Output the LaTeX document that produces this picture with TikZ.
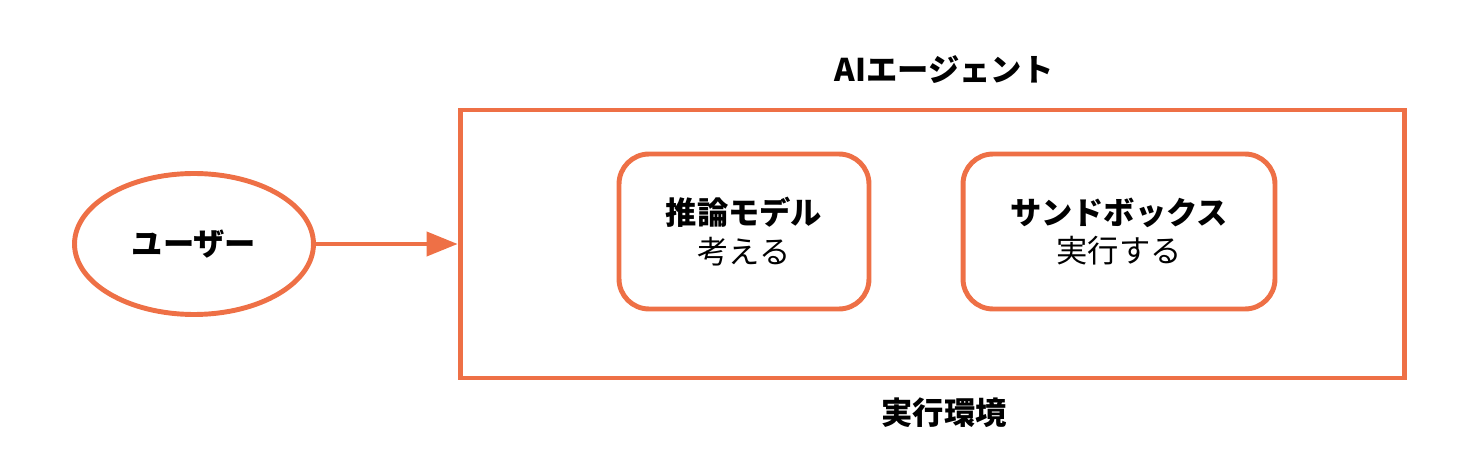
\documentclass[tikz,border=0pt]{standalone}
\usepackage{fontspec}
\setmainfont{Noto Sans CJK JP}
\usepackage{xcolor}
\definecolor{aOrange}{HTML}{EE7046}
\usepackage{tikz}
\usetikzlibrary{arrows.meta, positioning, shapes.geometric}

\begin{document}
\begin{tikzpicture}[
  x=0.02cm, y=-0.02cm,
  every node/.style={font=\fontsize{17.8}{22}\selectfont},
  title/.style={font=\fontsize{17.8}{22}\selectfont\bfseries},
  user/.style={ellipse, draw=aOrange, line width=2.8pt,
               minimum width=4.78cm, minimum height=2.82cm},
  frame/.style={rectangle, draw=aOrange, line width=2.8pt,
                minimum width=18.9cm, minimum height=5.36cm},
  part/.style={rectangle, rounded corners=0.6cm, draw=aOrange, line width=2.8pt,
               minimum height=3.1cm, align=center}
]
\useasboundingbox (0,0) rectangle (1480,462);
\node[user, title] (user) at (194,244) {ユーザー};
\node[frame] (env) at (932.5,244) {};
\node[title] (agentlbl) at (944,70) {AIエージェント};
\node[title] (envlbl) at (944,413) {実行環境};
\node[part, minimum width=5cm]    (model) at (744,231.5)
  {\textbf{推論モデル}\\考える};
\node[part, minimum width=6.24cm] (sandbox) at (1119,231.5)
  {\textbf{サンドボックス}\\実行する};
\draw[aOrange, line width=2.2pt, -{Triangle[length=0.62cm, width=0.48cm]}]
  (user) -- (env.west);
\end{tikzpicture}
\end{document}
